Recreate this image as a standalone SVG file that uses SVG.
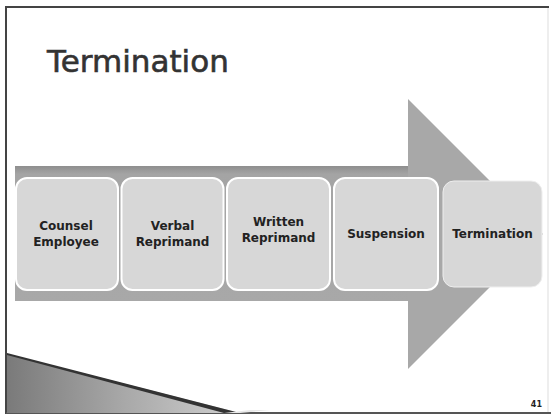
<svg xmlns="http://www.w3.org/2000/svg" width="551" height="415" viewBox="0 0 551 415">
  <defs>
    <linearGradient id="shaft" x1="0" y1="0" x2="0" y2="1">
      <stop offset="0" stop-color="#8e8e8e"/>
      <stop offset="0.06" stop-color="#a4a4a4"/>
      <stop offset="1" stop-color="#a8a8a8"/>
    </linearGradient>
    <linearGradient id="swoosh" x1="0" y1="0" x2="1" y2="0">
      <stop offset="0" stop-color="#7a7a7a"/>
      <stop offset="0.5" stop-color="#a8a8a8"/>
      <stop offset="1" stop-color="#d0d0d0"/>
    </linearGradient>
  </defs>
  <style>
    .box { fill: #d7d7d7; stroke: #ffffff; stroke-width: 2; }
    .lbl { font-family: "DejaVu Sans", "Liberation Sans", sans-serif; font-weight: bold; font-size: 12px; fill: #222222; text-anchor: middle; }
  </style>
  <rect x="0" y="0" width="551" height="415" fill="#ffffff"/>
  <!-- slide frame -->
  <line x1="6" y1="7" x2="549" y2="7" stroke="#444444" stroke-width="2"/>
  <line x1="6" y1="6" x2="6" y2="414" stroke="#444444" stroke-width="2"/>
  <line x1="6" y1="413" x2="551" y2="413" stroke="#555555" stroke-width="2"/>
  <line x1="548" y1="8" x2="548" y2="412" stroke="#dddddd" stroke-width="1"/>

  <text x="47" y="72" font-family="'DejaVu Sans', 'Liberation Sans', sans-serif" font-size="31" fill="#333333" stroke="#333333" stroke-width="0.6">Termination</text>

  <!-- arrow -->
  <g id="arrow">
    <polygon points="408,99 543,234 408,369 408,301 15,301 15,166 408,166" fill="#a8a8a8"/>
    <rect x="15" y="166" width="393" height="135" fill="url(#shaft)"/>
  </g>

  <g id="connectors"></g>

  <g id="n1"><rect class="box" x="16" y="178" width="102" height="112" rx="11"/>
    <text class="lbl" x="66" y="230">Counsel</text><text class="lbl" x="66" y="246">Employee</text></g>
  <g id="n2"><rect class="box" x="121.5" y="178" width="102" height="112" rx="11"/>
    <text class="lbl" x="172.5" y="230">Verbal</text><text class="lbl" x="172.5" y="246">Reprimand</text></g>
  <g id="n3"><rect class="box" x="227" y="178" width="103" height="112" rx="11"/>
    <text class="lbl" x="278.5" y="226">Written</text><text class="lbl" x="278.5" y="242">Reprimand</text></g>
  <g id="n4"><rect class="box" x="334" y="178" width="104" height="112" rx="11"/>
    <text class="lbl" x="386" y="238">Suspension</text></g>
  <g id="n5"><rect class="box" x="443" y="181" width="99" height="106" rx="11" style="stroke:#eeeeee;stroke-width:1"/>
    <text class="lbl" x="492.5" y="238">Termination</text></g>

  <!-- bottom-left swoosh -->
  <polygon points="7,354 240,413 7,413" fill="url(#swoosh)"/>
  <polygon points="7,353 240,413 224,413 7,355" fill="#333333"/>
  <polygon points="224,413 240,413 270,410 250,410" fill="#e8e8e8"/>

  <text x="542" y="407" font-family="'DejaVu Sans', 'Liberation Sans', sans-serif" font-size="8" font-weight="bold" fill="#222222" text-anchor="end">41</text>
</svg>
